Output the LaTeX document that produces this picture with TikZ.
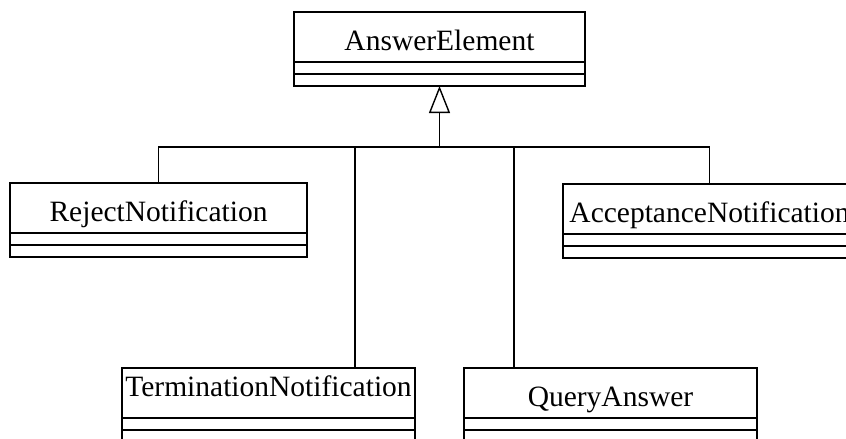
\documentclass[tikz,border=0pt]{standalone}
\usepackage{fontspec}
\setmainfont{Liberation Serif}
\usetikzlibrary{positioning, arrows.meta}

\begin{document}
\begin{tikzpicture}[x=1pt, y=-1pt,
          cname/.style={rectangle, draw, line width=1.4pt, minimum width=293pt,
                        text height=38pt, text depth=12pt, inner sep=0pt, outer sep=0pt,
                        font=\fontsize{29.5}{34}\selectfont},
          cpart/.style={rectangle, draw, line width=1.4pt, minimum width=293pt,
                        minimum height=12pt, inner sep=0pt, outer sep=0pt},
          gen/.style={-{Triangle[open, width=21pt, length=27pt]}, line width=1.4pt},
          link/.style={line width=1.4pt}
        ]
        \useasboundingbox (0,0) rectangle (846,439);
        \clip (0,0) rectangle (846,439);

        % Superclass
        \node[cname, minimum width=291pt, anchor=north] (ae) at (439.5,12) {AnswerElement};
        \node[cpart, minimum width=291pt, below=0pt of ae] (ae2) {};
        \node[cpart, minimum width=291pt, below=0pt of ae2] (ae3) {};

        % Subclasses, first row
        \node[cname, minimum width=297pt, anchor=north] (rej) at (158.5,183) {RejectNotification};
        \node[cpart, minimum width=297pt, below=0pt of rej] (rej2) {};
        \node[cpart, minimum width=297pt, below=0pt of rej2] (rej3) {};

        \node[cname, anchor=north] (acc) at (709.5,184) {AcceptanceNotification};
        \node[cpart, below=0pt of acc] (acc2) {};
        \node[cpart, below=0pt of acc2] (acc3) {};

        % Subclasses, second row
        \node[cname, text height=28pt, text depth=22pt, anchor=north] (term) at (268.5,368)
              {TerminationNotification};
        \node[cpart, below=0pt of term] (term2) {};
        \node[cpart, below=0pt of term2] (term3) {};

        \node[cname, anchor=north] (qa) at (610.5,368) {QueryAnswer};
        \node[cpart, below=0pt of qa] (qa2) {};
        \node[cpart, below=0pt of qa2] (qa3) {};

        % Generalization
        \coordinate (bar) at (439.5,147);
        \coordinate (tjoin) at (355,147);
        \coordinate (qjoin) at (514,147);
        \draw[gen] (bar) -- (ae3.south);
        \draw[link] (rej.north) |- (bar) -| (acc.north);
        \draw[link] (tjoin) -- (tjoin |- term.north);
        \draw[link] (qjoin) -- (qjoin |- qa.north);
      \end{tikzpicture}
\end{document}
